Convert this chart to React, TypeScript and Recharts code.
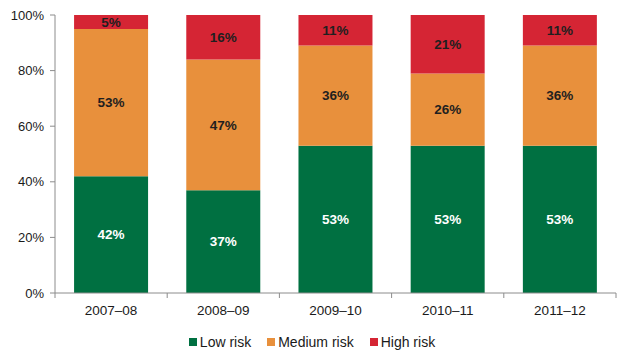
import { BarChart, Bar, XAxis, YAxis, Legend, LabelList } from 'recharts';

const years = ['2007–08', '2008–09', '2009–10', '2010–11', '2011–12'];
const lowRisk = [42, 37, 53, 53, 53];
const mediumRisk = [53, 47, 36, 26, 36];
const highRisk = [5, 16, 11, 21, 11];
const yTicks = [0, 20, 40, 60, 80, 100];
const seriesNames = ['Low risk', 'Medium risk', 'High risk'];
const seriesColors = ['#007041', '#e8903c', '#d52534'];

const data = years.map((name, i) => ({
  name,
  low: lowRisk[i],
  medium: mediumRisk[i],
  high: highRisk[i],
}));

const font = 'Liberation Sans, Arial, sans-serif';
const axisColor = '#8c8c8c';

function XTick(props: any) {
  const { x, y, payload, index } = props;
  const off = payload.offset || 0;
  return (
    <g>
      <line x1={x - off} x2={x - off} y1={y - 8} y2={y - 3} stroke={axisColor} />
      {index === years.length - 1 && (
        <line x1={x + off} x2={x + off} y1={y - 8} y2={y - 3} stroke={axisColor} />
      )}
      <text x={x} y={y + 14} textAnchor="middle" fontSize={13.5} fill="#1a1a1a" fontFamily={font}>
        {payload.value}
      </text>
    </g>
  );
}

function LegendContent() {
  return (
    <div style={{ display: 'flex', justifyContent: 'center', gap: 16, fontSize: 14, fontFamily: font, color: '#1a1a1a', paddingTop: 9, paddingLeft: 8 }}>
      {seriesNames.map((n, i) => (
        <span key={n} style={{ display: 'flex', alignItems: 'center' }}>
          <span style={{ display: 'inline-block', width: 8, height: 8, background: seriesColors[i], marginRight: 3 }} />
          {n}
        </span>
      ))}
    </div>
  );
}

const pct = (v: any) => v + '%';

export default function App() {
  return (
    <div style={{ position: 'absolute', left: 0, top: 0 }}>
      <BarChart
        width={627}
        height={354}
        data={data}
        margin={{ top: 15, right: 11, left: 0, bottom: 3 }}
        barCategoryGap="17%"
      >
        <YAxis
          width={55}
          domain={[0, 100]}
          ticks={yTicks}
          tickFormatter={pct}
          stroke={axisColor}
          tickSize={5}
          tickMargin={6}
          tick={{ fontSize: 13, fill: '#1a1a1a', fontFamily: font }}
        />
        <XAxis
          dataKey="name"
          stroke={axisColor}
          tickLine={false}
          height={32}
          tick={<XTick />}
          interval={0}
        />
        <Legend verticalAlign="bottom" height={26} content={<LegendContent />} />
        <Bar dataKey="low" name="Low risk" stackId="a" fill={seriesColors[0]} isAnimationActive={false}>
          <LabelList dataKey="low" position="center" formatter={pct} fill="#ffffff" fontSize={13.5} fontWeight="bold" fontFamily={font} />
        </Bar>
        <Bar dataKey="medium" name="Medium risk" stackId="a" fill={seriesColors[1]} isAnimationActive={false}>
          <LabelList dataKey="medium" position="center" formatter={pct} fill="#1f1f1f" fontSize={13.5} fontWeight="bold" fontFamily={font} />
        </Bar>
        <Bar dataKey="high" name="High risk" stackId="a" fill={seriesColors[2]} isAnimationActive={false}>
          <LabelList dataKey="high" position="center" formatter={pct} fill="#1f1f1f" fontSize={13.5} fontWeight="bold" fontFamily={font} />
        </Bar>
      </BarChart>
    </div>
  );
}
